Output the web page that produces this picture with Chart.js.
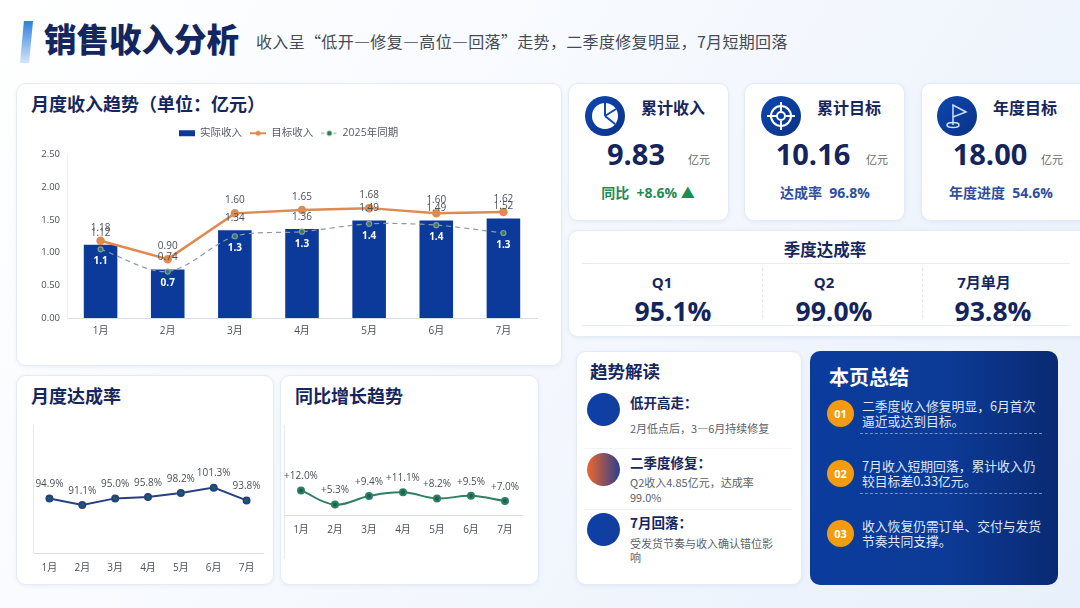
<!DOCTYPE html>
<html lang="zh">
<head>
<meta charset="utf-8">
<title>销售收入分析</title>
<script src="https://cdn.jsdelivr.net/npm/chart.js@4"></script>
<style>
  * { box-sizing: border-box; margin: 0; padding: 0; }
  html, body { width: 1080px; height: 608px; overflow: hidden; }
  body {
    position: relative;
    font-family: 'Noto Sans CJK SC', 'Noto Sans', sans-serif;
    background: linear-gradient(125deg, #ffffff 0%, #f6f9fe 45%, #e8f0fb 100%);
    color: #16265e;
  }
  .card, .t, .dot, .rule, .icon, canvas { position: absolute; }
  .card {
    background: rgba(255, 255, 255, 0.96);
    border: 1px solid #e5ebf4;
    border-radius: 10px;
    box-shadow: 0 1px 4px rgba(90, 120, 170, 0.10);
  }
  .t { white-space: nowrap; line-height: 1; }
  .l { transform: translateY(-50%); }
  .c { transform: translate(-50%, -50%); }
  .num { font-family: 'Open Sans', 'Noto Sans CJK SC', sans-serif; }
  .accent {
    position: absolute; left: 20px; top: 21px; width: 13px; height: 42px;
    background: linear-gradient(180deg, #2f7fdc, #d4e5f8);
    clip-path: polygon(30% 0, 100% 0, 70% 100%, 0 100%);
  }
  .h18 { font-size: 18px; font-weight: 700; }
  .kpi-title { font-size: 16px; font-weight: 700; }
  .kpi-num { font-size: 29px; font-weight: 700; color: #14245c; }
  .unit { font-size: 11px; color: #666; }
  .kpi-sub { font-size: 14px; font-weight: 700; color: #2f4e9c; }
  .q-name { font-size: 15px; font-weight: 700; }
  .q-num { font-size: 26.5px; font-weight: 700; color: #14245c; }
  .rule { height: 1px; background: #e8edf4; }
  .vdash { position: absolute; width: 0; border-left: 1px dashed #e3e8f0; }
  .dot { border-radius: 50%; }
  .blue-dot { background: linear-gradient(90deg, #0d3fa6, #123f9e); }
  .read-h { font-size: 13.5px; font-weight: 700; }
  .read-d { font-size: 11px; color: #5a5f6b; }
  .summary {
    position: absolute; left: 810px; top: 351px; width: 248px; height: 234px;
    border-radius: 10px;
    background: linear-gradient(90deg, #0b3c9d 0%, #0c3a96 55%, #0a2a72 100%);
  }
  .sum-t { font-size: 12.8px; color: #dfe8fa; }
  .sum-dash { position: absolute; left: 860px; width: 182px; border-top: 1px dashed #6f8fd0; }
  .badge {
    width: 27px; height: 27px; background: #f39c12; color: #fff;
    font-family: 'Open Sans', sans-serif; font-size: 11px; font-weight: 700;
    display: flex; align-items: center; justify-content: center;
  }
  .icon { width: 40px; height: 40px; border-radius: 50%; background: linear-gradient(135deg, #0d47b0, #0b3286); }
</style>
</head>
<body>
<div class="accent"></div>
<div class="t l" style="left:44px;top:38px;font-size:32.5px;font-weight:900;color:#13265f">销售收入分析</div>
<div class="t l" style="left:256px;top:41px;font-size:16px;letter-spacing:.33px;color:#444a56">收入呈“低开—修复—高位—回落”走势，二季度修复明显，7月短期回落</div>

<div class="card" style="left:16px;top:83px;width:546px;height:283px"></div>
<div class="card" style="left:16px;top:375px;width:258px;height:210px"></div>
<div class="card" style="left:280px;top:375px;width:259px;height:210px"></div>
<div class="t l h18" style="left:31px;top:103px">月度收入趋势（单位：亿元）</div>
<div class="t l h18" style="left:31px;top:395px">月度达成率</div>
<div class="t l h18" style="left:295px;top:395px">同比增长趋势</div>

<canvas id="revenueChart" style="left:20px;top:118px" width="530" height="233"></canvas>
<canvas id="attainChart" style="left:20px;top:415px" width="250" height="165"></canvas>
<canvas id="growthChart" style="left:282px;top:415px" width="255" height="165"></canvas>

<!-- KPI cards -->
<div class="card" style="left:568px;top:83px;width:161px;height:138px"></div>
<div class="card" style="left:744px;top:83px;width:161px;height:138px"></div>
<div class="card" style="left:921px;top:83px;width:170px;height:138px"></div>

<div class="icon" style="left:585px;top:96px">
  <svg width="40" height="40" viewBox="0 0 40 40"><circle cx="20" cy="20" r="13" fill="#fff"/><path d="M20 20 L20 7 M20 20 L31 13 M20 20 L30 28" stroke="#0d47b0" stroke-width="2" fill="none"/></svg>
</div>
<div class="icon" style="left:761px;top:96px">
  <svg width="40" height="40" viewBox="0 0 40 40" fill="none" stroke="#fff" stroke-width="2"><circle cx="20" cy="20" r="10"/><circle cx="20" cy="20" r="4"/><path d="M20 6V15M20 25V34M6 20H15M25 20H34"/></svg>
</div>
<div class="icon" style="left:937px;top:96px">
  <svg width="40" height="40" viewBox="0 0 40 40" fill="none" stroke="#cfe0fb" stroke-width="1.5"><path d="M16 29V9L29 16L16 21"/><ellipse cx="16" cy="29" rx="6" ry="2.5"/></svg>
</div>

<div class="t c kpi-title" style="left:673px;top:107px">累计收入</div>
<div class="t c kpi-title" style="left:849px;top:107px">累计目标</div>
<div class="t c kpi-title" style="left:1025px;top:107px">年度目标</div>
<div class="t c kpi-num num" style="left:636px;top:153px">9.83</div>
<div class="t c kpi-num num" style="left:813px;top:153px">10.16</div>
<div class="t c kpi-num num" style="left:990px;top:153px">18.00</div>
<div class="t c unit" style="left:699px;top:159px">亿元</div>
<div class="t c unit" style="left:877px;top:159px">亿元</div>
<div class="t c unit" style="left:1052px;top:159px">亿元</div>
<div class="t c kpi-sub num" style="left:648px;top:193px;color:#1f8a55">同比&nbsp;&nbsp;+8.6% ▲</div>
<div class="t c kpi-sub num" style="left:825px;top:193px">达成率&nbsp;&nbsp;96.8%</div>
<div class="t c kpi-sub num" style="left:1001px;top:193px">年度进度&nbsp;&nbsp;54.6%</div>

<!-- quarter card -->
<div class="card" style="left:568px;top:230px;width:523px;height:107px"></div>
<div class="t c" style="left:825px;top:249px;font-size:16.5px;font-weight:700">季度达成率</div>
<div class="rule" style="left:582px;top:263px;width:488px"></div>
<div class="rule" style="left:582px;top:325px;width:488px"></div>
<div class="vdash" style="left:762px;top:268px;height:50px"></div>
<div class="vdash" style="left:922px;top:268px;height:50px"></div>
<div class="t c q-name num" style="left:662px;top:282px">Q1</div>
<div class="t c q-name num" style="left:824px;top:282px">Q2</div>
<div class="t c q-name num" style="left:984px;top:282px">7月单月</div>
<div class="t c q-num num" style="left:673px;top:311px">95.1%</div>
<div class="t c q-num num" style="left:834px;top:311px">99.0%</div>
<div class="t c q-num num" style="left:993px;top:311px">93.8%</div>

<!-- reading card -->
<div class="card" style="left:576px;top:351px;width:226px;height:234px"></div>
<div class="t l" style="left:590px;top:371px;font-size:17.5px;font-weight:700">趋势解读</div>
<div class="dot blue-dot" style="left:587px;top:393px;width:33px;height:33px"></div>
<div class="dot" style="left:587px;top:453px;width:33px;height:33px;background:linear-gradient(90deg,#f0672a,#2b3f8f)"></div>
<div class="dot blue-dot" style="left:587px;top:513px;width:33px;height:33px"></div>
<div class="rule" style="left:584px;top:448px;width:208px;background:#f0f3f8"></div>
<div class="rule" style="left:584px;top:509px;width:208px;background:#f0f3f8"></div>
<div class="t l read-h" style="left:630px;top:403px">低开高走：</div>
<div class="t l read-d" style="left:630px;top:428px">2月低点后，3—6月持续修复</div>
<div class="t l read-h" style="left:630px;top:463px">二季度修复：</div>
<div class="t l read-d" style="left:630px;top:482px">Q2收入4.85亿元，达成率</div>
<div class="t l read-d" style="left:630px;top:497px">99.0%</div>
<div class="t l read-h" style="left:630px;top:523px">7月回落：</div>
<div class="t l read-d" style="left:630px;top:543px">受发货节奏与收入确认错位影</div>
<div class="t l read-d" style="left:630px;top:557px">响</div>

<!-- summary card -->
<div class="summary"></div>
<div class="t l" style="left:829px;top:377px;font-size:20px;font-weight:700;color:#fff">本页总结</div>
<div class="dot badge" style="left:827px;top:400px">01</div>
<div class="dot badge" style="left:827px;top:460px">02</div>
<div class="dot badge" style="left:827px;top:520px">03</div>
<div class="t l sum-t" style="left:862px;top:406px">二季度收入修复明显，6月首次</div>
<div class="t l sum-t" style="left:862px;top:421px">逼近或达到目标。</div>
<div class="sum-dash" style="top:433px"></div>
<div class="t l sum-t" style="left:862px;top:466px">7月收入短期回落，累计收入仍</div>
<div class="t l sum-t" style="left:862px;top:481px">较目标差0.33亿元。</div>
<div class="sum-dash" style="top:493px"></div>
<div class="t l sum-t" style="left:862px;top:526px">收入恢复仍需订单、交付与发货</div>
<div class="t l sum-t" style="left:862px;top:541px">节奏共同支撑。</div>

<script>
// chart data
const months = ['1月', '2月', '3月', '4月', '5月', '6月', '7月'];
const actualRevenue = [1.12, 0.74, 1.34, 1.36, 1.49, 1.49, 1.52];
const targetRevenue = [1.18, 0.90, 1.60, 1.65, 1.68, 1.60, 1.62];
const lastYearRevenue = [1.05, 0.71, 1.25, 1.32, 1.44, 1.42, 1.30];
const attainmentRate = [94.9, 91.1, 95.0, 95.8, 98.2, 101.3, 93.8];
const growthRate = [12.0, 5.3, 9.4, 11.1, 8.2, 9.5, 7.0];

const FONT = "'Open Sans','Noto Sans CJK SC',sans-serif";
const AXIS_COLOR = '#d8dde6';
const TEXT_COLOR = '#4b4f58';

Chart.defaults.font.family = FONT;
Chart.defaults.animation = false;
Chart.defaults.responsive = false;

// draws value labels above or below the marks of a dataset
const valueLabels = {
    id: 'valueLabels',
    afterDatasetsDraw(chart) {
        const ctx = chart.ctx;
        chart.data.datasets.forEach((ds, i) => {
            if (!ds.labelFormat) return;
            chart.getDatasetMeta(i).data.forEach((el, j) => {
                ctx.save();
                ctx.font = (ds.labelBold ? '700 ' : '') + (ds.labelSize || 10) + 'px ' + FONT;
                ctx.fillStyle = ds.labelColor || TEXT_COLOR;
                ctx.textAlign = 'center';
                ctx.textBaseline = 'middle';
                ctx.fillText(ds.labelFormat(ds.data[j]), el.x, el.y + ds.labelOffset);
                ctx.restore();
            });
        });
    }
};

// extra room between the legend and the plot
const legendGap = {
    id: 'legendGap',
    beforeInit(chart) {
        const fit = chart.legend.fit;
        chart.legend.fit = function () {
            fit.call(this);
            this.height += 6;
        };
    }
};

// small canvases used as legend symbols
function legendIcon(draw) {
    const c = document.createElement('canvas');
    c.width = 16;
    c.height = 10;
    draw(c.getContext('2d'));
    return c;
}

const legendIcons = [
    legendIcon(g => { g.fillStyle = '#0b3a9a'; g.fillRect(0, 2, 16, 6); }),
    legendIcon(g => {
        g.strokeStyle = '#e08a50'; g.lineWidth = 2;
        g.beginPath(); g.moveTo(0, 5); g.lineTo(16, 5); g.stroke();
        g.fillStyle = '#e08a50'; g.beginPath(); g.arc(8, 5, 2.5, 0, 7); g.fill();
    }),
    legendIcon(g => {
        g.strokeStyle = '#8a98a8'; g.lineWidth = 1; g.setLineDash([3, 3]);
        g.beginPath(); g.moveTo(0, 5); g.lineTo(16, 5); g.stroke();
        g.fillStyle = '#2e7d4f'; g.beginPath(); g.arc(8, 5, 2.5, 0, 7); g.fill();
    })
];

function initRevenueChart() {
    new Chart(document.getElementById('revenueChart'), {
        type: 'bar',
        data: {
            labels: months,
            datasets: [
                {
                    label: '实际收入',
                    data: actualRevenue,
                    backgroundColor: '#0b3a9a',
                    barPercentage: 0.5,
                    categoryPercentage: 1,
                    order: 3,
                    labelFormat: v => v.toFixed(2),
                    labelOffset: -12
                },
                {
                    type: 'line',
                    label: '目标收入',
                    data: targetRevenue,
                    borderColor: '#e08a50',
                    backgroundColor: '#e08a50',
                    borderWidth: 2.5,
                    pointRadius: 3,
                    order: 2,
                    labelFormat: v => v.toFixed(2),
                    labelOffset: -13
                },
                {
                    type: 'line',
                    label: '2025年同期',
                    data: lastYearRevenue,
                    borderColor: '#8a98a8',
                    backgroundColor: '#2e7d4f',
                    borderWidth: 1.2,
                    borderDash: [5, 4],
                    tension: 0.3,
                    pointRadius: 2.5,
                    order: 1,
                    labelFormat: v => v.toFixed(1),
                    labelOffset: 12,
                    labelColor: '#ffffff',
                    labelBold: true
                }
            ]
        },
        options: {
            layout: { padding: { left: 20, right: 13, top: 2, bottom: 0 } },
            plugins: {
                tooltip: { enabled: false },
                legend: {
                    position: 'top',
                    labels: {
                        usePointStyle: true,
                        pointStyleWidth: 16,
                        boxHeight: 10,
                        padding: 8,
                        color: '#555a64',
                        font: { size: 10.5 },
                        sort: (a, b) => a.datasetIndex - b.datasetIndex,
                        generateLabels: chart =>
                            Chart.defaults.plugins.legend.labels.generateLabels(chart)
                                .map(item => ({ ...item, pointStyle: legendIcons[item.datasetIndex] }))
                    }
                }
            },
            scales: {
                x: {
                    grid: { display: false },
                    border: { color: AXIS_COLOR },
                    ticks: { color: TEXT_COLOR, font: { size: 10 }, padding: -1 },
                    afterFit: s => { s.height = 33; }
                },
                y: {
                    min: 0,
                    max: 2.5,
                    grid: { display: false },
                    border: { color: '#eceff4' },
                    ticks: {
                        stepSize: 0.5,
                        padding: -1,
                        color: TEXT_COLOR,
                        font: { size: 9.5 },
                        callback: v => v.toFixed(2)
                    },
                    afterFit: s => { s.width = 27; }
                }
            }
        },
        plugins: [legendGap, valueLabels]
    });
}

// shared setup for the two small line charts
function initSmallLine(id, values, opts) {
    new Chart(document.getElementById(id), {
        type: 'line',
        data: {
            labels: months,
            datasets: [{
                data: values,
                borderColor: opts.color,
                backgroundColor: '#17605f',
                borderWidth: 2,
                tension: opts.tension,
                pointRadius: 3,
                labelFormat: opts.format,
                labelOffset: -14
            }]
        },
        options: {
            layout: { autoPadding: false, padding: opts.padding },
            plugins: { legend: { display: false }, tooltip: { enabled: false } },
            scales: {
                x: {
                    offset: true,
                    position: opts.xPosition,
                    grid: { display: false },
                    border: { color: AXIS_COLOR },
                    ticks: { color: TEXT_COLOR, font: { size: 10 }, padding: opts.tickPadding },
                    afterFit: s => { s.height = 27; }
                },
                y: {
                    min: opts.min,
                    max: opts.max,
                    grid: { display: false },
                    border: { color: '#e6e9ef' },
                    ticks: { display: false },
                    afterFit: s => { s.width = 0; }
                }
            }
        },
        plugins: [valueLabels]
    });
}

initRevenueChart();
initSmallLine('attainChart', attainmentRate, {
    color: '#27407f',
    tension: 0,
    min: 63,
    max: 138,
    tickPadding: 1,
    format: v => v.toFixed(1) + '%',
    padding: { left: 13, right: 7, top: 10, bottom: 0 }
});
initSmallLine('growthChart', growthRate, {
    color: '#2f8060',
    tension: 0.4,
    min: -20,
    max: 43,
    tickPadding: 0,
    xPosition: { y: 0 },
    format: v => '+' + v.toFixed(1) + '%',
    padding: { left: 2, right: 15, top: 10, bottom: 22 }
});
</script>
</body>
</html>
